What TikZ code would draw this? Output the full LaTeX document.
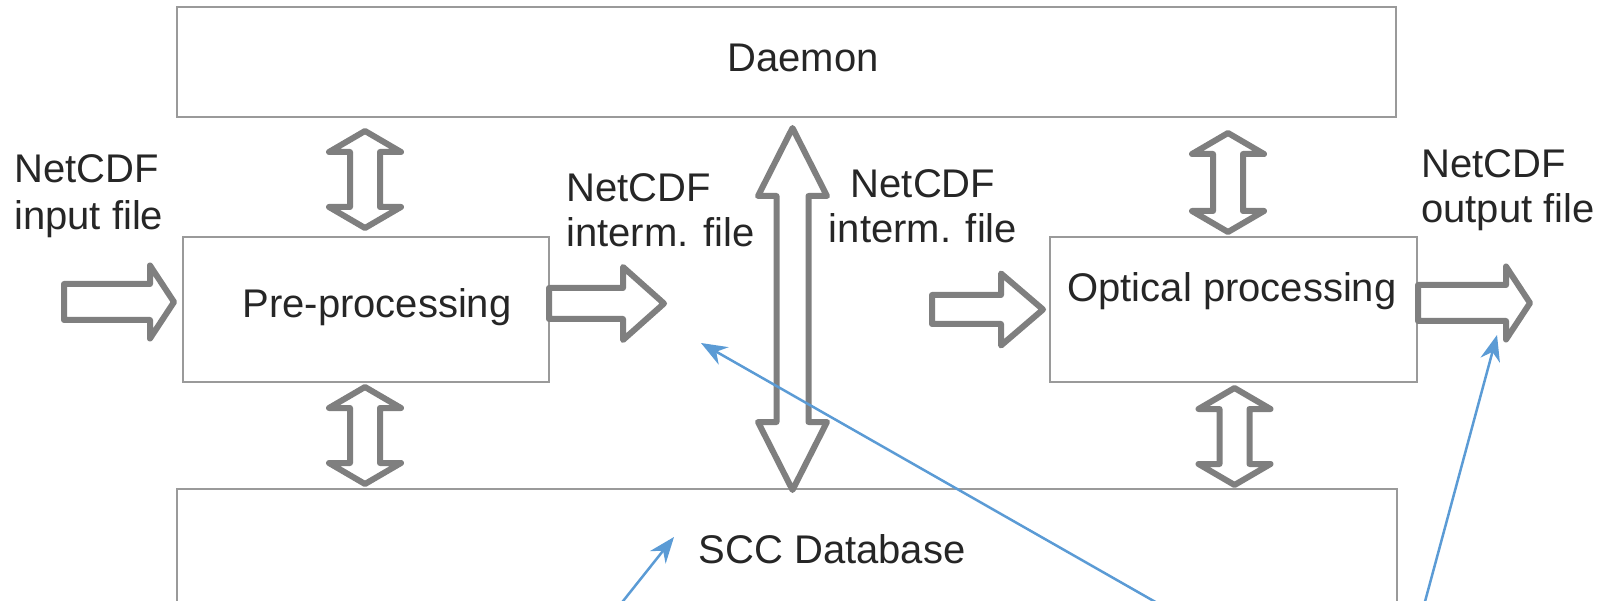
\documentclass[tikz,border=0pt]{standalone}
\usepackage{fontspec}
\setmainfont{Liberation Sans}
\usetikzlibrary{calc,arrows.meta}

\definecolor{blockgray}{HTML}{7F7F7F}
\definecolor{framegray}{HTML}{9A9A9A}
\definecolor{inkdark}{HTML}{262626}
\definecolor{pointblue}{HTML}{5B9BD5}

\tikzset{
    box/.style={draw=framegray, line width=1.8pt, inner sep=0pt},
    boxtext/.style={text=inkdark, inner sep=0pt, anchor=base},
    filetext/.style={text=inkdark, inner sep=0pt},
    block/.style={draw=blockgray, fill=white, line width=6pt, line join=round},
    pointer/.style={draw=pointblue, line width=2.5pt, -{Stealth[length=26pt, width=20pt]}}
}

% hollow arrow to the right: tail, tip, shaft half, head half, head length
\newcommand{\blockright}[5]{
    \draw[block] let \p1=(#1), \p2=(#2) in
        (\x1,\y1+#3) -- (\x2-#5,\y1+#3) -- (\x2-#5,\y1+#4) -- (\x2,\y1)
        -- (\x2-#5,\y1-#4) -- (\x2-#5,\y1-#3) -- (\x1,\y1-#3) -- cycle;
}

% hollow double arrow up/down: upper tip, lower tip, shaft half, head half, head length
\newcommand{\blockupdown}[5]{
    \draw[block] let \p1=(#1), \p2=(#2) in
        (\x1,\y1) -- (\x1+#4,\y1-#5) -- (\x1+#3,\y1-#5) -- (\x1+#3,\y2+#5)
        -- (\x1+#4,\y2+#5) -- (\x1,\y2) -- (\x1-#4,\y2+#5) -- (\x1-#3,\y2+#5)
        -- (\x1-#3,\y1-#5) -- (\x1-#4,\y1-#5) -- cycle;
}

\begin{document}
\begin{tikzpicture}[x=1pt, y=-1pt, font=\fontsize{40}{45}\selectfont]
    \useasboundingbox (0,0) rectangle (1605,601);
    \clip (0,0) rectangle (1605,601);

    % boxes
    \node[box, minimum width=1219pt, minimum height=110pt] (daemon) at (786.5,62) {};
    \node[box, minimum width=366pt, minimum height=145pt] (pre) at (366,309.5) {};
    \node[box, minimum width=367pt, minimum height=145pt] (optical) at (1233.5,309.5) {};
    \node[box, minimum width=1220pt, minimum height=140pt] (scc) at (787,559) {};

    \node[boxtext] (daemontext) at (803,72) {Daemon};
    \node[boxtext] (pretext) at (377,318) {Pre-processing};
    \node[boxtext] (opticaltext) at (1232,302) {Optical processing};
    \node[boxtext] (scctext) at (832,563) {SCC Database};

    % file labels
    \node[filetext, anchor=base west] (infile) at (14,183)
        {\begin{tabular}[t]{@{}l@{}}NetCDF\\[2pt]input file\end{tabular}};
    \node[filetext, anchor=base west] (intermone) at (566,202)
        {\begin{tabular}[t]{@{}l@{}}NetCDF\\interm. file\end{tabular}};
    \node[filetext, anchor=base] (intermtwo) at (923,198)
        {\begin{tabular}[t]{@{}c@{}}NetCDF\\interm. file\end{tabular}};
    \node[filetext, anchor=base west] (outfile) at (1421,178)
        {\begin{tabular}[t]{@{}l@{}}NetCDF\\output file\end{tabular}};

    % data flow
    \coordinate (intail) at (64,302);
    \coordinate (intip) at (174,302);
    \coordinate (pretail) at (549,303.5);
    \coordinate (pretip) at (664,303.5);
    \coordinate (opttail) at (932,309.5);
    \coordinate (opttip) at (1043,309.5);
    \coordinate (outtail) at (1418,303);
    \coordinate (outtip) at (1530,303);
    \blockright{intail}{intip}{18pt}{36.5pt}{24pt}
    \blockright{pretail}{pretip}{15.5pt}{36.5pt}{41pt}
    \blockright{opttail}{opttip}{14.5pt}{36pt}{42pt}
    \blockright{outtail}{outtip}{18pt}{36.5pt}{24pt}

    % links to daemon and database
    \foreach \i/\cx/\ta/\tb in {1/365/131/228, 2/365/387/484, 3/1228/133/232, 4/1234.5/388/485} {
        \coordinate (v\i top) at (\cx,\ta);
        \coordinate (v\i bot) at (\cx,\tb);
        \blockupdown{v\i top}{v\i bot}{15pt}{36pt}{21pt}
    }
    \coordinate (daemonlink) at (792.5,128);
    \coordinate (scclink) at (792.5,490);
    \blockupdown{daemonlink}{scclink}{16pt}{34.5pt}{68pt}

    % pointers
    \coordinate (tipscc) at (674,537);
    \coordinate (tipinterm) at (701,343);
    \coordinate (tipout) at (1497,335);
    \coordinate (footscc) at (608,620);
    \coordinate (footinterm) at (1187,620);
    \coordinate (footout) at (1420,620);
    \draw[pointer] (footscc) -- (tipscc);
    \draw[pointer] (footinterm) -- (tipinterm);
    \draw[pointer] (footout) -- (tipout);
\end{tikzpicture}
\end{document}
